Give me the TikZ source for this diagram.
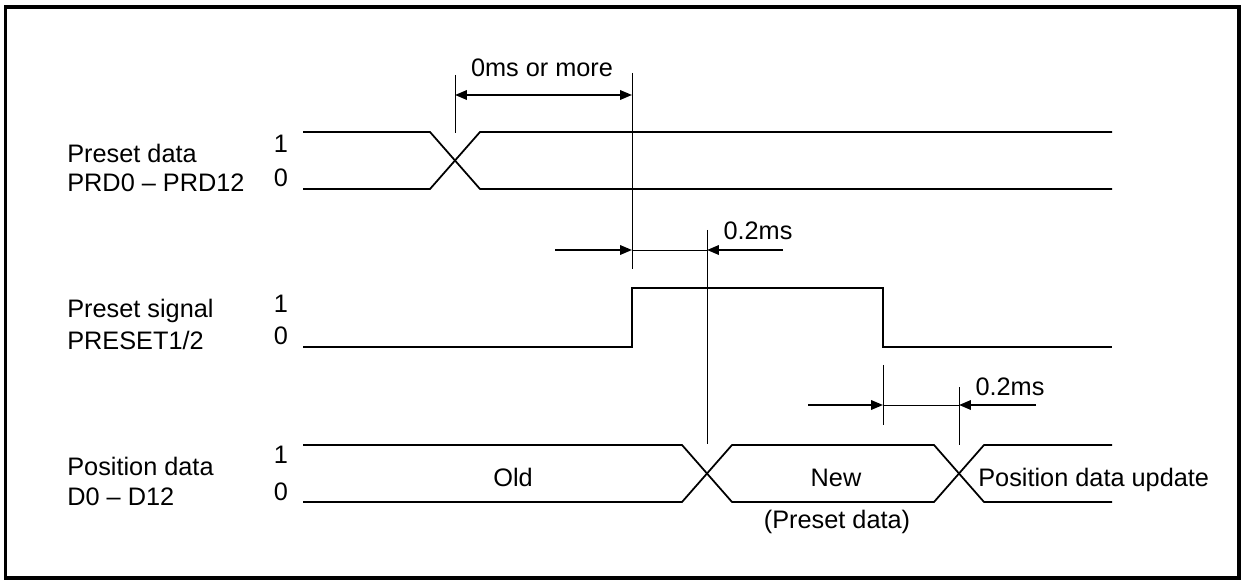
\documentclass[tikz,border=0pt]{standalone}
\usepackage{fontspec}
\setmainfont{Liberation Sans}
\usetikzlibrary{arrows.meta}

\begin{document}
\begin{tikzpicture}[
    x=0.02cm, y=-0.02cm,
    font=\fontsize{14.4}{17}\selectfont,
    >={Triangle[length=6.8pt,width=5.4pt]},
    wave/.style={line width=1pt, line join=miter},
    guide/.style={line width=0.55pt},
    dimarrow/.style={->, line width=1.1pt},
    signame/.style={anchor=base west, inner sep=0pt},
    sigbit/.style={anchor=base, inner sep=0pt},
    note/.style={anchor=base, inner sep=0pt}
]
\useasboundingbox (0,0) rectangle (1246,580);
\draw[line width=2pt] (5.5,7) rectangle (1239,578);

% signal names and levels
\node[signame] (prdname) at (67,163) {Preset data};
\node[signame] (prdbits) at (67,192) {PRD0 -- PRD12};
\node[sigbit] (prdhi) at (281,153) {1};
\node[sigbit] (prdlo) at (281,187) {0};

\node[signame] (psname) at (67,318) {Preset signal};
\node[signame] (psbits) at (67,350) {PRESET1/2};
\node[sigbit] (pshi) at (281,313) {1};
\node[sigbit] (pslo) at (281,345) {0};

\node[signame] (posname) at (67,475) {Position data};
\node[signame] (posbits) at (67,505) {D0 -- D12};
\node[sigbit] (poshi) at (281,463) {1};
\node[sigbit] (poslo) at (281,500) {0};

% preset data
\draw[wave] (303,132) -- (430,132) -- (480,189) -- (1112,189);
\draw[wave] (303,189) -- (430,189) -- (480,132) -- (1112,132);

% preset signal
\draw[wave] (303,347) -- (632,347) -- (632,288) -- (883,288) -- (883,347) -- (1112,347);

% position data
\draw[wave] (303,445) -- (682,445) -- (732,502) -- (934,502) -- (984,445) -- (1112,445);
\draw[wave] (303,502) -- (682,502) -- (732,445) -- (934,445) -- (984,502) -- (1112,502);
\node[note] (old) at (513,486) {Old};
\node[note] (new) at (836,486) {New};
\node[note] (newsrc) at (837,528) {(Preset data)};
\node[signame] (update) at (978,486) {Position data update};

% timing guides
\coordinate (t0) at (455,95);
\coordinate (t1) at (632,95);
\draw[guide] (455,75) -- (455,133);
\draw[guide] (632,73) -- (632,269);
\draw[guide] (707,230) -- (707,444);
\draw[guide] (883,365) -- (883,425);
\draw[guide] (959,387) -- (959,445);

% 0ms or more
\draw[dimarrow, <->] (t0) -- (t1);
\node[note] (wait) at (542,77) {0ms or more};

% first 0.2ms
\draw[dimarrow] (555,250) -- (632,250);
\draw[guide] (632,250) -- (707,250);
\draw[dimarrow] (783,250) -- (707,250);
\node[note] (delay1) at (758,240) {0.2ms};

% second 0.2ms
\draw[dimarrow] (808,405) -- (883,405);
\draw[guide] (883,405) -- (959,405);
\draw[dimarrow] (1036,405) -- (959,405);
\node[note] (delay2) at (1010,396) {0.2ms};
\end{tikzpicture}
\end{document}
